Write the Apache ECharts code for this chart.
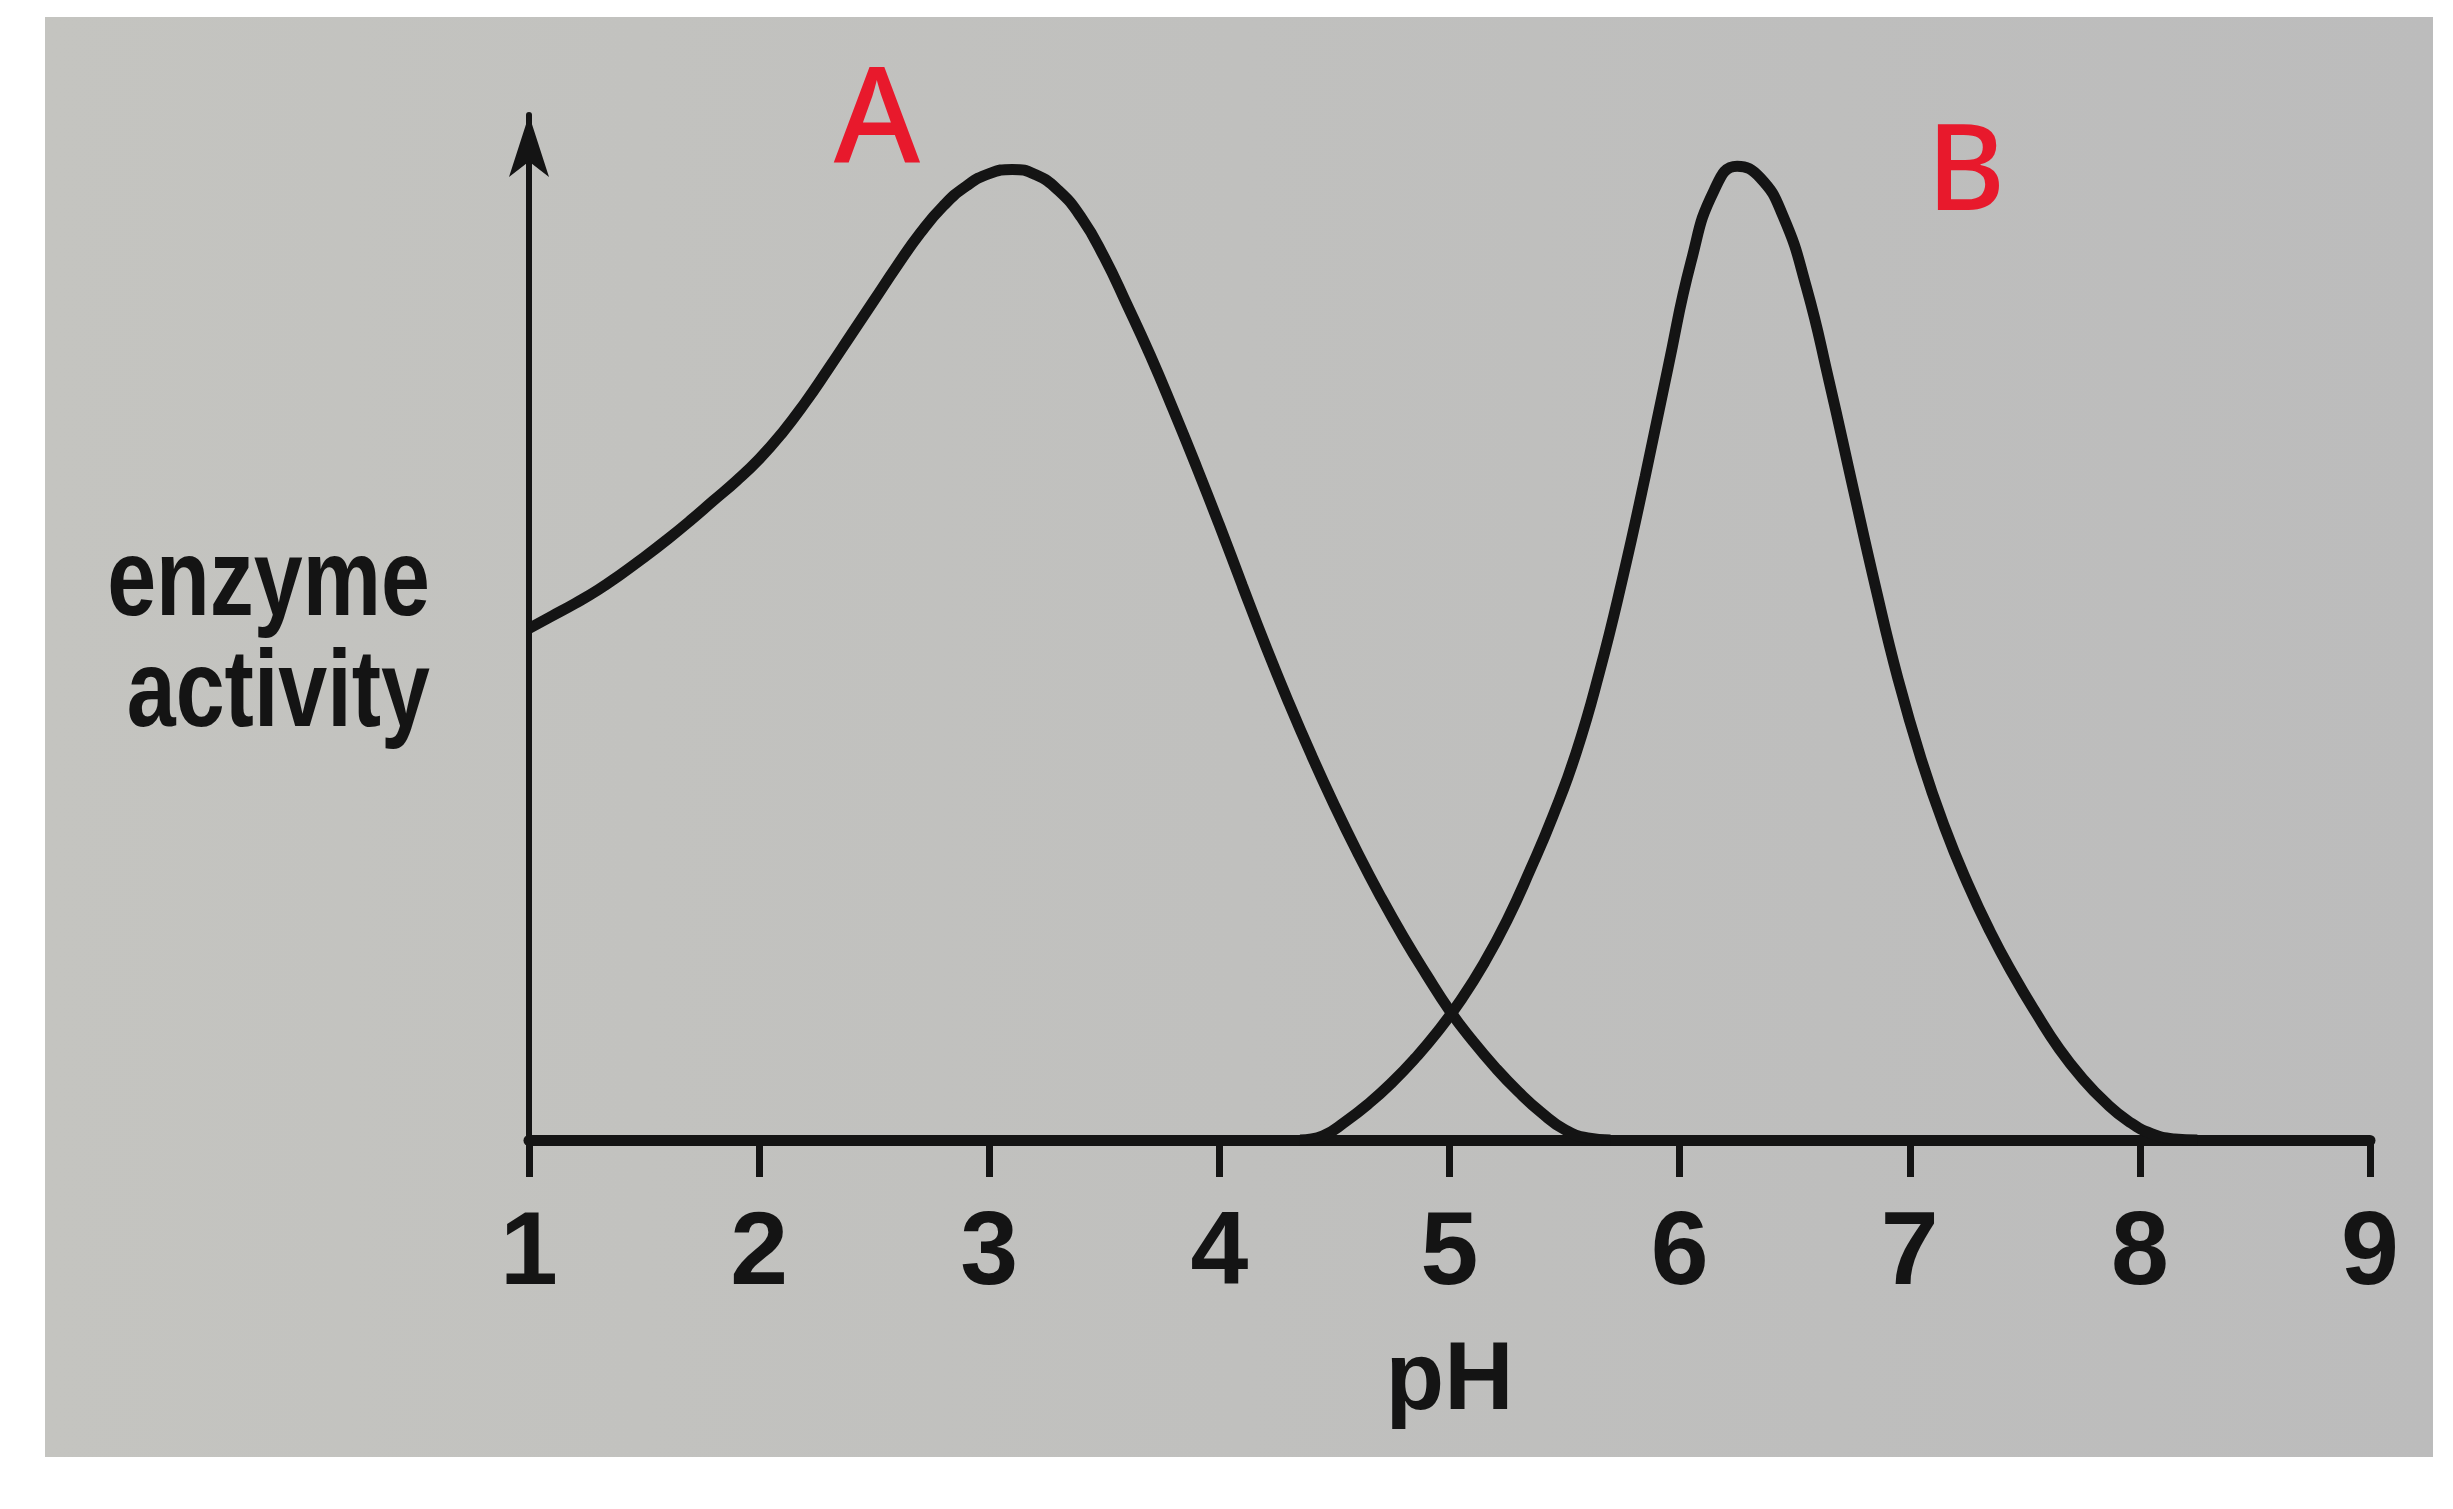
<!DOCTYPE html>
<html>
<head>
<meta charset="utf-8">
<script src="https://cdn.jsdelivr.net/npm/echarts@6/dist/echarts.min.js"></script>
<style>
html,body{margin:0;padding:0;background:#ffffff;}
#chart{width:2453px;height:1509px;}
</style>
</head>
<body>
<div id="chart"></div>
<script>
// ---- data ----
const xTicks = [1, 2, 3, 4, 5, 6, 7, 8, 9];
const phA  = [1.0, 1.1, 1.2, 1.3, 1.4, 1.5, 1.6, 1.7, 1.8, 1.9, 2.0, 2.1, 2.2, 2.3, 2.4, 2.5, 2.6, 2.7, 2.8, 2.9,
              3.0, 3.1, 3.2, 3.3, 3.4, 3.5, 3.6, 3.7, 3.8, 3.9, 4.0, 4.1, 4.2, 4.3, 4.4, 4.5, 4.6, 4.7, 4.8, 4.9,
              5.0, 5.1, 5.2, 5.3, 5.4, 5.5, 5.6, 5.7];
const actA = [48.9, 50.1, 51.3, 52.6, 54.1, 55.7, 57.4, 59.2, 61.1, 63.0, 65.1, 67.6, 70.5, 73.7, 77.0, 80.3, 83.6, 86.7, 89.3, 91.2,
              92.4, 92.8, 92.3, 90.8, 88.2, 84.4, 79.8, 75.0, 69.8, 64.4, 58.8, 53.0, 47.3, 41.9, 36.8, 32.0, 27.5, 23.3, 19.4, 15.8,
              12.4, 9.5, 6.9, 4.6, 2.6, 1.0, 0.2, 0];
const phB  = [4.35, 4.45, 4.55, 4.65, 4.75, 4.85, 4.95, 5.05, 5.15, 5.25, 5.35, 5.45, 5.55, 5.65, 5.75, 5.85, 5.95, 6.05, 6.15, 6.25,
              6.35, 6.45, 6.55, 6.65, 6.75, 6.85, 6.95, 7.05, 7.15, 7.25, 7.35, 7.45, 7.55, 7.65, 7.75, 7.85, 7.95, 8.05, 8.15, 8.25];
const actB = [0, 0.4, 1.8, 3.5, 5.5, 7.8, 10.4, 13.4, 16.9, 21.0, 25.8, 31.0, 37.0, 44.6, 53.5, 63.4, 73.9, 84.0, 90.8, 93.1,
              92.0, 88.3, 81.6, 72.5, 62.7, 53.0, 44.0, 36.4, 30.0, 24.6, 19.9, 15.8, 12.1, 8.7, 5.9, 3.6, 1.8, 0.6, 0.1, 0];
const curveNames = ['A', 'B'];
const xAxisTitle = 'pH';
const yAxisTitle = 'enzyme\nactivity';

const zip = (xs, ys) => xs.map((x, i) => [x, ys[i]]);
const ink = '#141414';
const red = '#e8192c';

const chart = echarts.init(document.getElementById('chart'), null, {renderer: 'canvas'});
chart.setOption({
  backgroundColor: '#ffffff',
  animation: false,
  grid: {left: 529, right: 83, top: 115, bottom: 369, containLabel: false},
  xAxis: {
    type: 'value', min: 1, max: 9, interval: 1,
    name: xAxisTitle, nameLocation: 'middle', nameGap: 195,
    nameTextStyle: {color: ink, fontSize: 96, fontWeight: 'bold', fontFamily: 'Liberation Sans, Arial, sans-serif'},
    axisLine: {show: true, onZero: false, lineStyle: {color: ink, width: 11}},
    axisTick: {show: true, length: 37, lineStyle: {color: ink, width: 7}},
    axisLabel: {show: true, margin: 63, color: ink, fontSize: 104, fontWeight: 'bold', fontFamily: 'Liberation Sans, Arial, sans-serif',
      formatter: v => (xTicks.indexOf(v) >= 0 ? String(v) : '')},
    splitLine: {show: false}
  },
  yAxis: {
    type: 'value', min: 0, max: 98,
    axisLine: {show: true, lineStyle: {color: ink, width: 6}, symbol: ['none', 'arrow'], symbolSize: [30, 62]},
    axisTick: {show: false}, axisLabel: {show: false}, splitLine: {show: false}
  },
  graphic: [
    {type: 'rect', z: -10, silent: true, shape: {x: 45, y: 17, width: 2388, height: 1440},
      style: {fill: new echarts.graphic.LinearGradient(0, 0, 1, 0, [{offset: 0, color: '#c4c4c0'}, {offset: 1, color: '#bcbcbc'}])}},
    {type: 'text', z: 10, x: 430, y: 640, scaleX: 0.8, originX: 0, originY: 0,
      style: {text: yAxisTitle, fill: ink, font: 'bold 110px "Liberation Sans", Arial, sans-serif', lineHeight: 111, textAlign: 'right', textVerticalAlign: 'middle'}},
    {type: 'text', z: 10, x: 877, y: 124,
      style: {text: curveNames[0], fill: red, font: '500 132px "Noto Sans", sans-serif', textAlign: 'center', textVerticalAlign: 'middle'}},
    {type: 'text', z: 10, x: 1966, y: 176,
      style: {text: curveNames[1], fill: red, font: '500 120px "Noto Sans", sans-serif', textAlign: 'center', textVerticalAlign: 'middle'}}
  ],
  series: [
    {name: curveNames[0], type: 'line', data: zip(phA, actA), smooth: 0.5, showSymbol: false,
      lineStyle: {color: ink, width: 11}},
    {name: curveNames[1], type: 'line', data: zip(phB, actB), smooth: 0.5, showSymbol: false,
      lineStyle: {color: ink, width: 11}}
  ]
});
</script>
</body>
</html>
